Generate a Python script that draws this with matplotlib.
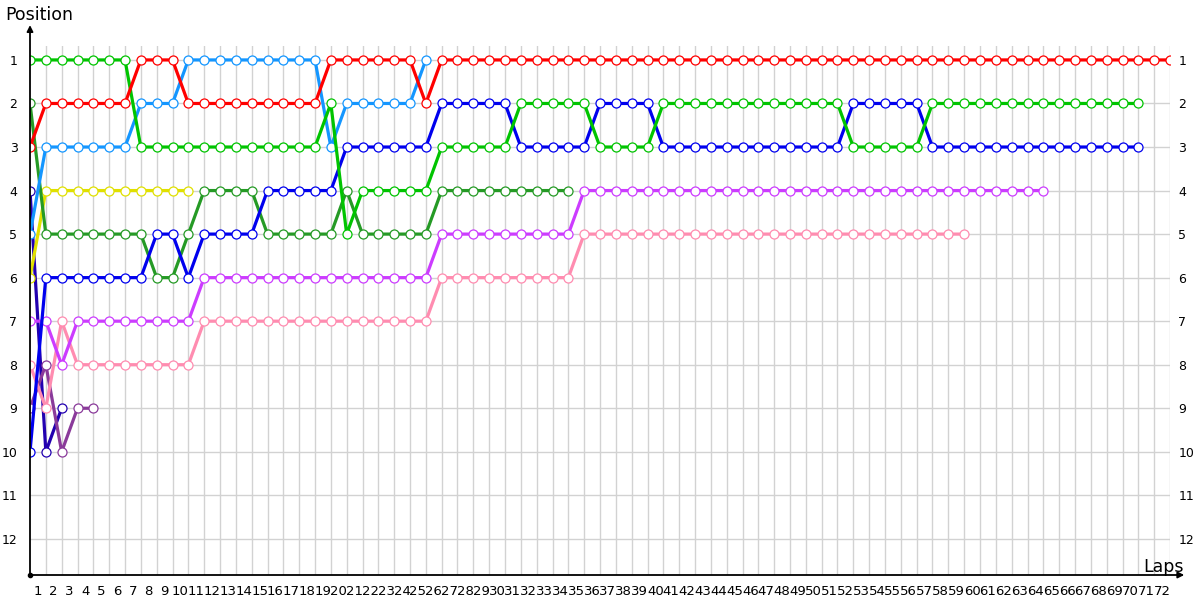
import matplotlib
matplotlib.use("Agg")
from matplotlib import pyplot as plt

# race positions per lap (index 0 = grid)
red = [3, 2, 2, 2, 2, 2, 2, 1, 1, 1,
       2, 2, 2, 2, 2, 2, 2, 2, 2, 1,
       1, 1, 1, 1, 1, 2, 1, 1, 1, 1,
       1, 1, 1, 1, 1, 1, 1, 1, 1, 1,
       1, 1, 1, 1, 1, 1, 1, 1, 1, 1,
       1, 1, 1, 1, 1, 1, 1, 1, 1, 1,
       1, 1, 1, 1, 1, 1, 1, 1, 1, 1,
       1, 1, 1]
green = [1, 1, 1, 1, 1, 1, 1, 3, 3, 3,
         3, 3, 3, 3, 3, 3, 3, 3, 3, 2,
         5, 4, 4, 4, 4, 4, 3, 3, 3, 3,
         3, 2, 2, 2, 2, 2, 3, 3, 3, 3,
         2, 2, 2, 2, 2, 2, 2, 2, 2, 2,
         2, 2, 3, 3, 3, 3, 3, 2, 2, 2,
         2, 2, 2, 2, 2, 2, 2, 2, 2, 2,
         2]
light_blue = [5, 3, 3, 3, 3, 3, 3, 2, 2, 2,
              1, 1, 1, 1, 1, 1, 1, 1, 1, 3,
              2, 2, 2, 2, 2, 1]
yellow = [6, 4, 4, 4, 4, 4, 4, 4, 4, 4, 4]
dark_green = [2, 5, 5, 5, 5, 5, 5, 5, 6, 6,
              5, 4, 4, 4, 4, 5, 5, 5, 5, 5,
              4, 5, 5, 5, 5, 5, 4, 4, 4, 4,
              4, 4, 4, 4, 4]
blue = [10, 6, 6, 6, 6, 6, 6, 6, 5, 5,
        6, 5, 5, 5, 5, 4, 4, 4, 4, 4,
        3, 3, 3, 3, 3, 3, 2, 2, 2, 2,
        2, 3, 3, 3, 3, 3, 2, 2, 2, 2,
        3, 3, 3, 3, 3, 3, 3, 3, 3, 3,
        3, 3, 2, 2, 2, 2, 2, 3, 3, 3,
        3, 3, 3, 3, 3, 3, 3, 3, 3, 3,
        3]
purple = [7, 7, 8, 7, 7, 7, 7, 7, 7, 7,
          7, 6, 6, 6, 6, 6, 6, 6, 6, 6,
          6, 6, 6, 6, 6, 6, 5, 5, 5, 5,
          5, 5, 5, 5, 5, 4, 4, 4, 4, 4,
          4, 4, 4, 4, 4, 4, 4, 4, 4, 4,
          4, 4, 4, 4, 4, 4, 4, 4, 4, 4,
          4, 4, 4, 4, 4]
pink = [8, 9, 7, 8, 8, 8, 8, 8, 8, 8,
        8, 7, 7, 7, 7, 7, 7, 7, 7, 7,
        7, 7, 7, 7, 7, 7, 6, 6, 6, 6,
        6, 6, 6, 6, 6, 5, 5, 5, 5, 5,
        5, 5, 5, 5, 5, 5, 5, 5, 5, 5,
        5, 5, 5, 5, 5, 5, 5, 5, 5, 5]
dark_purple = [9, 8, 10, 9, 9]
navy = [4, 10, 9]

series = [
    (navy, '#2200b0'),
    (dark_purple, '#8a3a9a'),
    (pink, '#ff8cb0'),
    (purple, '#cc3cff'),
    (yellow, '#e0e000'),
    (dark_green, '#259a25'),
    (blue, '#0000ee'),
    (light_blue, '#1496ff'),
    (green, '#00c400'),
    (red, '#ff0000'),
]

n_laps = 72
n_pos = 12

fig = plt.figure(figsize=(12, 6), dpi=100)
ax = fig.add_axes([30 / 1200, 25 / 600, 1140 / 1200, 529 / 600])

for vals, col in series:
    ax.plot(range(len(vals)), vals, color=col, lw=2.3, marker='o', ms=6.5,
            mfc='white', mec=col, mew=0.9, zorder=3)

ax.set_xlim(0, n_laps)
ax.set_ylim(12.83, 0.68)

# grid
for lap in range(1, n_laps + 1):
    ax.axvline(lap, color='#d2d2d2', lw=1, zorder=1)
for p in range(1, n_pos + 1):
    ax.axhline(p, color='#d2d2d2', lw=1, zorder=1)

for s in ax.spines.values():
    s.set_visible(False)

ax.set_xticks([i - 0.5 for i in range(1, n_laps + 1)])
ax.set_xticklabels([str(i) for i in range(1, n_laps + 1)], fontsize=9.5)
ax.tick_params(axis='x', length=0, pad=7)
ax.set_yticks(range(1, n_pos + 1))
ax.set_yticklabels([str(i) for i in range(1, n_pos + 1)], fontsize=9)
ax.tick_params(axis='y', length=0, pad=9)

sec = ax.secondary_yaxis('right')
sec.set_yticks(range(1, n_pos + 1))
sec.set_yticklabels([str(i) for i in range(1, n_pos + 1)], fontsize=9)
sec.tick_params(length=0, pad=6)
sec.spines['right'].set_visible(False)

# axis lines with arrows
ax.annotate('', xy=(0, 0.2), xytext=(0, 12.83), xycoords='data',
            arrowprops=dict(arrowstyle='-|>', color='black', lw=1.3,
                            mutation_scale=9, shrinkA=0, shrinkB=0),
            annotation_clip=False)
ax.annotate('', xy=(72.9, 12.83), xytext=(0, 12.83), xycoords='data',
            arrowprops=dict(arrowstyle='-|>', color='black', lw=1.3,
                            mutation_scale=9, shrinkA=0, shrinkB=0),
            annotation_clip=False)
ax.plot([0], [12.83], 'o', color='black', ms=3, clip_on=False)

fig.text(5 / 1200, 1 - 6 / 600, 'Position', fontsize=12.5, va='top', ha='left')
fig.text(1143 / 1200, 1 - 576 / 600, 'Laps', fontsize=12.5, va='bottom', ha='left')

fig.savefig('out.png', dpi=100)
